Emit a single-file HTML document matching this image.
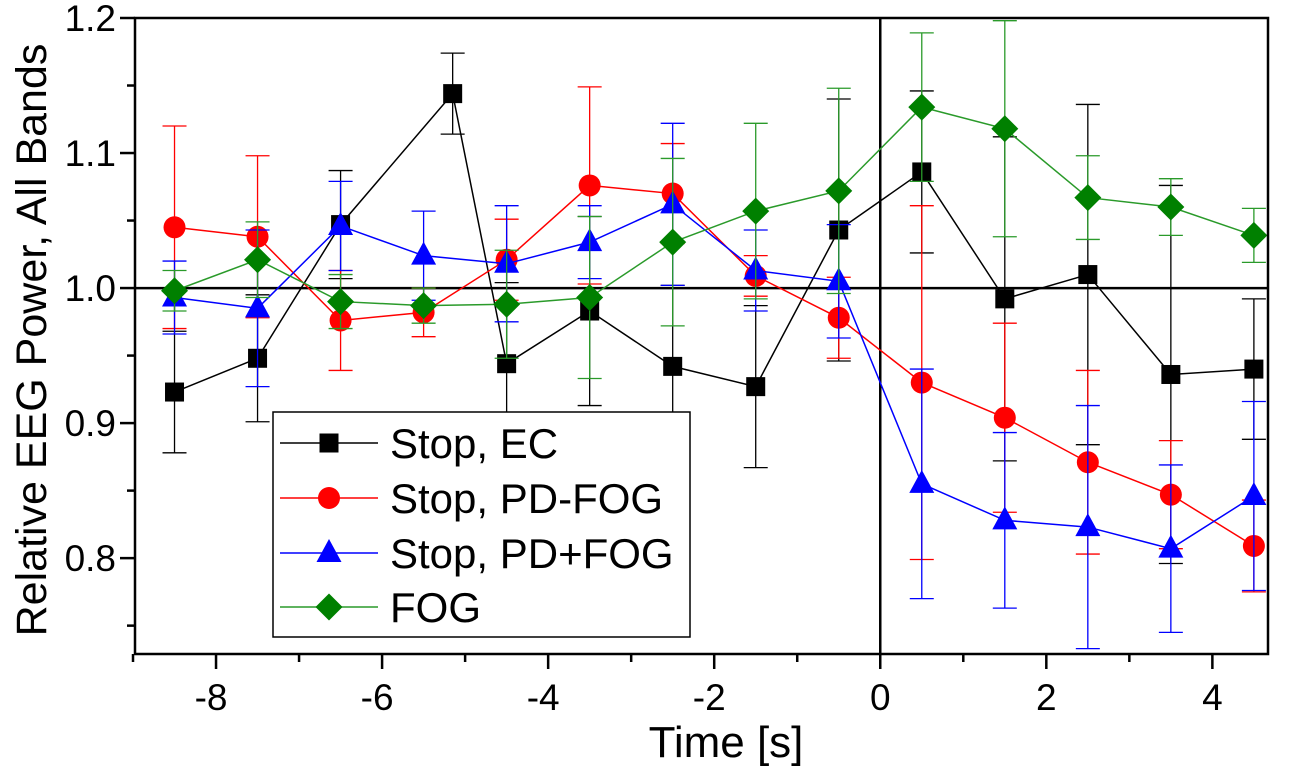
<!DOCTYPE html>
<html><head><meta charset="utf-8"><style>
html,body{margin:0;padding:0;background:#fff;width:1299px;height:772px;overflow:hidden}
svg text{font-family:"Liberation Sans",Arial,sans-serif}
</style></head><body>
<svg id="chart" width="1299" height="772"></svg>
<script>
const xTicks=[-8,-6,-4,-2,0,2,4];
const yTicks=[0.8,0.9,1.0,1.1,1.2];
const seriesNames=["Stop, EC","Stop, PD-FOG","Stop, PD+FOG","FOG"];
const ecX=[-8.5,-7.5,-6.5,-5.15,-4.5,-3.5,-2.5,-1.5,-0.5,0.5,1.5,2.5,3.5,4.5];
const ecY=[0.923,0.948,1.047,1.144,0.944,0.983,0.942,0.927,1.043,1.086,0.992,1.01,0.936,0.94];
const ecE=[0.045,0.047,0.04,0.03,0.06,0.07,0.06,0.06,0.097,0.06,0.12,0.126,0.14,0.052];
const pdfX=[-8.5,-7.5,-6.5,-5.5,-4.5,-3.5,-2.5,-1.5,-0.5,0.5,1.5,2.5,3.5,4.5];
const pdfY=[1.045,1.038,0.976,0.982,1.021,1.076,1.07,1.009,0.978,0.93,0.904,0.871,0.847,0.809];
const pdfE=[0.075,0.06,0.037,0.018,0.03,0.073,0.037,0.015,0.03,0.131,0.07,0.068,0.04,0.034];
const pdpX=[-8.5,-7.5,-6.5,-5.5,-4.5,-3.5,-2.5,-1.5,-0.5,0.5,1.5,2.5,3.5,4.5];
const pdpY=[0.993,0.985,1.046,1.024,1.018,1.034,1.062,1.013,1.005,0.855,0.828,0.823,0.807,0.846];
const pdpE=[0.027,0.058,0.033,0.033,0.043,0.027,0.06,0.03,0.042,0.085,0.065,0.09,0.062,0.07];
const fogX=[-8.5,-7.5,-6.5,-5.5,-4.5,-3.5,-2.5,-1.5,-0.5,0.5,1.5,2.5,3.5,4.5];
const fogY=[0.998,1.021,0.99,0.987,0.988,0.993,1.034,1.057,1.072,1.134,1.118,1.067,1.06,1.039];
const fogE=[0.015,0.028,0.02,0.013,0.04,0.06,0.062,0.065,0.076,0.055,0.08,0.031,0.021,0.02];

const NS="http://www.w3.org/2000/svg";
const svg=document.getElementById('chart');
const L=135,R=1268,T=18,B=654;
const xMin=-8.976,xMax=4.67,yMin=0.729,yMax=1.2;
function sx(v){return L+(v-xMin)/(xMax-xMin)*(R-L);}
function sy(v){return B-(v-yMin)/(yMax-yMin)*(B-T);}
function el(tag,attrs,parent){const e=document.createElementNS(NS,tag);for(const k in attrs)e.setAttribute(k,attrs[k]);(parent||svg).appendChild(e);return e;}

let g=el('g',{});


el('line',{x1:L,x2:R,y1:sy(1),y2:sy(1),stroke:'#000','stroke-width':2.5},g);
el('line',{x1:sx(0),x2:sx(0),y1:T,y2:B,stroke:'#000','stroke-width':2.5},g);

function marker(type,x,y,color,parent){
  if(type==='square')return el('rect',{x:x-9.5,y:y-9.5,width:19,height:19,fill:color},parent);
  if(type==='circle')return el('circle',{cx:x,cy:y,r:11,fill:color},parent);
  if(type==='triangle')return el('polygon',{points:`${x},${y-14} ${x-12.5},${y+9} ${x+12.5},${y+9}`,fill:color},parent);
  return el('polygon',{points:`${x},${y-13.5} ${x+13.5},${y} ${x},${y+13.5} ${x-13.5},${y}`,fill:color},parent);
}
const series=[
 {name:'series-stop-ec',xs:ecX,ys:ecY,es:ecE,color:'#000',m:'square',lc:'#000'},
 {name:'series-stop-pd-fog',xs:pdfX,ys:pdfY,es:pdfE,color:'#f00',m:'circle',lc:'#f00'},
 {name:'series-stop-pd-plus-fog',xs:pdpX,ys:pdpY,es:pdpE,color:'#00f',m:'triangle',lc:'#00f'},
 {name:'series-fog',xs:fogX,ys:fogY,es:fogE,color:'#008000',m:'diamond',lc:'#2a9a2a'}
];
series.forEach(s=>{
  const sg=el('g',{});
  
  
  el('polyline',{points:s.xs.map((x,i)=>sx(x)+','+sy(s.ys[i])).join(' '),fill:'none',stroke:s.lc,'stroke-width':1.5},sg);
  s.xs.forEach((x,i)=>{
    const px=sx(x),t=sy(s.ys[i]+s.es[i]),b=sy(s.ys[i]-s.es[i]);
    const eb=el('path',{d:`M${px},${t}V${b}M${px-12},${t}H${px+12}M${px-12},${b}H${px+12}`,stroke:s.lc,'stroke-width':1.3,fill:'none'},sg);
    
    
  });
  s.xs.forEach((x,i)=>{
    const mk=marker(s.m,sx(x),sy(s.ys[i]),s.color,sg);
    
    
  });
});

const ax=el('g',{});


el('rect',{x:L,y:T,width:R-L,height:B-T,fill:'none',stroke:'#000','stroke-width':2.5},ax);
for(let v=-9;v<=4;v+=1){
  const major=xTicks.includes(v);
  el('line',{x1:sx(v),x2:sx(v),y1:B,y2:B+(major?15:8),stroke:'#000','stroke-width':2.5},ax);
}
xTicks.forEach(v=>{
  const t=el('text',{x:sx(v)-(v<0?5:0),y:710,'font-size':37,'text-anchor':'middle'},ax);
  t.textContent=v;
  
  
});
for(let v=0.75;v<=1.2001;v+=0.05){
  const major=yTicks.some(y=>Math.abs(y-v)<1e-6);
  el('line',{x1:L,x2:L-(major?15:8),y1:sy(v),y2:sy(v),stroke:'#000','stroke-width':2.5},ax);
}
yTicks.forEach(v=>{
  const t=el('text',{x:116,y:sy(v)+13,'font-size':37,'text-anchor':'end'},ax);
  t.textContent=v.toFixed(1);
  
  
});
const xt=el('text',{x:726,y:757,'font-size':44,'text-anchor':'middle'});
xt.textContent='Time [s]';


const yt=el('text',{x:0,y:0,'font-size':43,'text-anchor':'middle',transform:'translate(46,340) rotate(-90)'});
yt.textContent='Relative EEG Power, All Bands';



const lg=el('g',{});


el('rect',{x:273,y:412,width:417,height:225,fill:'#fff',stroke:'#000','stroke-width':1.5},lg);
const ly=[443,498,553,607];
series.forEach((s,i)=>{
  const eg=el('g',{},lg);
  
  
  el('line',{x1:280,x2:378,y1:ly[i],y2:ly[i],stroke:s.lc,'stroke-width':1.5},eg);
  marker(s.m,329,ly[i],s.color,eg);
  const t=el('text',{x:390,y:ly[i]+15,'font-size':42},eg);
  t.textContent=seriesNames[i];
});
</script>
</body></html>
